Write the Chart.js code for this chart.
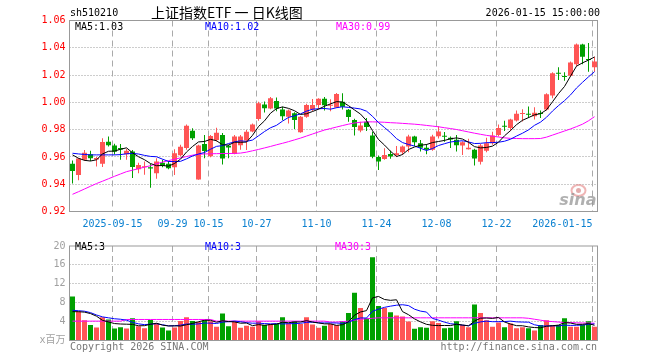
<!DOCTYPE html>
<html><head><meta charset="utf-8">
<script src="https://cdn.jsdelivr.net/npm/chart.js@4.4.1/dist/chart.umd.min.js"></script>
<style>
html,body{margin:0;padding:0;background:#fff;}
#wrap{position:relative;width:660px;height:360px;overflow:hidden;background:#fff;font-family:"DejaVu Sans Mono",monospace;font-size:10px;}
.t{position:absolute;white-space:pre;line-height:12px;}
canvas{position:absolute;left:0;}
</style></head><body>
<div id="wrap">
<canvas id="pc" width="660" height="236" style="top:0;width:660px;height:236px"></canvas>
<canvas id="vc" width="660" height="124" style="top:236px;width:660px;height:124px"></canvas>
<div class="t" style="left:70px;top:7px;color:#000">sh510210</div>
<div class="t" style="left:151px;top:3px;font-family:'Noto Sans CJK SC',sans-serif;font-size:14px;line-height:18px;color:#000">上证指数ETF 一 日K线图</div>
<div class="t" style="right:60px;top:7px;color:#000">2026-01-15 15:00:00</div>
<div class="t" style="left:75px;top:21px;color:#000">MA5:1.03</div>
<div class="t" style="left:205px;top:21px;color:#0000ff">MA10:1.02</div>
<div class="t" style="left:336px;top:21px;color:#ff00ff">MA30:0.99</div>
<div class="t" style="left:75px;top:241px;color:#000">MA5:3</div>
<div class="t" style="left:205px;top:241px;color:#0000ff">MA10:3</div>
<div class="t" style="left:335px;top:241px;color:#ff00ff">MA30:3</div>
<div class="t" style="left:70px;top:341px;color:#777">Copyright 2026 SINA.COM</div>
<div class="t" style="right:63px;top:341px;color:#777">http://finance.sina.com.cn</div>
</div>
<script>
const dates = [
 '2025-09-04','2025-09-05','2025-09-08','2025-09-09','2025-09-10','2025-09-11','2025-09-12','2025-09-15','2025-09-16','2025-09-17',
 '2025-09-18','2025-09-19','2025-09-22','2025-09-23','2025-09-24','2025-09-25','2025-09-26','2025-09-29','2025-09-30','2025-10-09',
 '2025-10-10','2025-10-13','2025-10-14','2025-10-15','2025-10-16','2025-10-17','2025-10-20','2025-10-21','2025-10-22','2025-10-23',
 '2025-10-24','2025-10-27','2025-10-28','2025-10-29','2025-10-30','2025-10-31','2025-11-03','2025-11-04','2025-11-05','2025-11-06',
 '2025-11-07','2025-11-10','2025-11-11','2025-11-12','2025-11-13','2025-11-14','2025-11-17','2025-11-18','2025-11-19','2025-11-20',
 '2025-11-21','2025-11-24','2025-11-25','2025-11-26','2025-11-27','2025-11-28','2025-12-01','2025-12-02','2025-12-03','2025-12-04',
 '2025-12-05','2025-12-08','2025-12-09','2025-12-10','2025-12-11','2025-12-12','2025-12-15','2025-12-16','2025-12-17','2025-12-18',
 '2025-12-19','2025-12-22','2025-12-23','2025-12-24','2025-12-25','2025-12-26','2025-12-29','2025-12-30','2025-12-31','2026-01-05',
 '2026-01-06','2026-01-07','2026-01-08','2026-01-09','2026-01-12','2026-01-13','2026-01-14','2026-01-15'];

const openP = [
 0.9550,0.9467,0.9580,0.9620,0.9582,0.9550,0.9712,0.9684,0.9665,0.9620,
 0.9640,0.9510,0.9525,0.9525,0.9480,0.9558,0.9550,0.9525,0.9612,0.9665,
 0.9792,0.9435,0.9694,0.9605,0.9725,0.9760,0.9682,0.9622,0.9685,0.9720,
 0.9787,0.9878,0.9985,0.9955,1.0010,0.9948,0.9894,0.9920,0.9780,0.9894,
 0.9948,0.9980,1.0026,0.9975,0.9963,1.0005,0.9945,0.9870,0.9793,0.9857,
 0.9757,0.9600,0.9585,0.9622,0.9615,0.9635,0.9676,0.9750,0.9700,0.9668,
 0.9652,0.9752,0.9752,0.9740,0.9726,0.9683,0.9657,0.9652,0.9565,0.9645,
 0.9700,0.9760,0.9826,0.9812,0.9867,0.9915,0.9915,0.9898,0.9920,0.9948,
 1.0050,1.0215,1.0190,1.0195,1.0280,1.0425,1.0315,1.0257];
const highP = [
 0.9573,0.9593,0.9650,0.9645,0.9600,0.9737,0.9750,0.9696,0.9695,0.9660,
 0.9650,0.9558,0.9566,0.9550,0.9590,0.9580,0.9570,0.9656,0.9690,0.9837,
 0.9810,0.9690,0.9760,0.9760,0.9813,0.9775,0.9690,0.9760,0.9760,0.9797,
 0.9845,1.0005,1.0007,1.0040,1.0035,0.9968,0.9948,0.9927,0.9900,0.9990,
 1.0025,1.0030,1.0040,1.0022,1.0068,1.0066,0.9952,0.9880,0.9857,0.9885,
 0.9785,0.9610,0.9664,0.9645,0.9681,0.9684,0.9763,0.9755,0.9725,0.9694,
 0.9763,0.9824,0.9783,0.9750,0.9760,0.9715,0.9733,0.9660,0.9694,0.9740,
 0.9785,0.9837,0.9866,0.9880,0.9940,0.9950,0.9970,0.9965,0.9940,1.0066,
 1.0220,1.0257,1.0220,1.0300,1.0432,1.0430,1.0435,1.0335];
const lowP = [
 0.9405,0.9429,0.9570,0.9570,0.9530,0.9527,0.9677,0.9617,0.9580,0.9580,
 0.9445,0.9480,0.9470,0.9375,0.9440,0.9525,0.9510,0.9468,0.9605,0.9653,
 0.9725,0.9433,0.9590,0.9598,0.9713,0.9545,0.9590,0.9620,0.9653,0.9650,
 0.9780,0.9865,0.9925,0.9950,0.9935,0.9869,0.9845,0.9805,0.9777,0.9887,
 0.9935,0.9950,0.9940,0.9935,0.9958,0.9948,0.9858,0.9757,0.9780,0.9790,
 0.9590,0.9505,0.9580,0.9587,0.9600,0.9615,0.9635,0.9680,0.9640,0.9620,
 0.9645,0.9735,0.9712,0.9665,0.9640,0.9615,0.9655,0.9538,0.9545,0.9635,
 0.9690,0.9750,0.9790,0.9790,0.9860,0.9860,0.9885,0.9875,0.9886,0.9940,
 1.0030,1.0163,1.0158,1.0188,1.0265,1.0280,1.0225,1.0225];
const closeP = [
 0.9496,0.9588,0.9630,0.9590,0.9592,0.9710,0.9685,0.9638,0.9655,0.9646,
 0.9527,0.9540,0.9530,0.9515,0.9566,0.9534,0.9517,0.9627,0.9674,0.9828,
 0.9737,0.9684,0.9643,0.9753,0.9777,0.9589,0.9670,0.9750,0.9750,0.9785,
 0.9837,0.9993,0.9957,1.0030,0.9955,0.9898,0.9940,0.9870,0.9894,0.9980,
 0.9980,1.0026,0.9978,0.9980,1.0062,0.9967,0.9892,0.9820,0.9830,0.9820,
 0.9602,0.9567,0.9615,0.9603,0.9627,0.9676,0.9750,0.9708,0.9668,0.9652,
 0.9750,0.9787,0.9748,0.9728,0.9685,0.9708,0.9668,0.9588,0.9683,0.9700,
 0.9757,0.9812,0.9822,0.9874,0.9917,0.9918,0.9910,0.9924,0.9915,1.0059,
 1.0213,1.0210,1.0185,1.0293,1.0425,1.0335,1.0310,1.0300];
const volume = [
 9.33,6.13,4.27,3.27,2.73,4.93,4.47,2.53,2.80,2.53,
 4.73,3.00,2.60,4.33,3.60,2.73,2.13,2.73,4.13,4.93,
 4.13,3.90,4.30,4.10,2.90,5.70,3.00,4.00,2.70,3.10,
 2.90,4.10,3.30,3.50,3.50,4.90,3.60,4.10,3.50,4.90,
 3.40,2.70,3.10,3.50,3.30,4.10,5.80,10.10,6.90,4.70,
 17.60,7.30,6.90,6.00,5.30,5.10,4.00,2.50,2.80,2.70,
 4.10,3.70,2.60,2.70,4.10,3.30,2.80,7.60,5.80,4.30,
 2.90,3.80,2.80,3.60,2.60,2.80,2.60,2.10,3.30,4.30,
 3.30,3.30,4.70,2.90,2.90,3.30,4.10,2.90];
// leading moving-average values (they depend on days before the window)
const ma5Head = [0.9615,0.9590,0.9575,0.9570];
const ma10Head = [0.9627,0.9622,0.9618,0.9615,0.9615,0.9615,0.9615,0.9615,0.9617];
const ma30Price = [
 0.9326,0.9345,0.9365,0.9385,0.9405,0.9422,0.9440,0.9458,0.9475,0.9492,
 0.9503,0.9514,0.9525,0.9536,0.9550,0.9562,0.9573,0.9583,0.9593,0.9603,
 0.9613,0.9619,0.9622,0.9623,0.9624,0.9625,0.9625,0.9626,0.9628,0.9635,
 0.9645,0.9655,0.9666,0.9677,0.9689,0.9700,0.9712,0.9725,0.9738,0.9753,
 0.9768,0.9783,0.9797,0.9808,0.9819,0.9830,0.9840,0.9849,0.9854,0.9857,
 0.9857,0.9856,0.9854,0.9851,0.9849,0.9846,0.9843,0.9840,0.9836,0.9831,
 0.9826,0.9821,0.9814,0.9808,0.9801,0.9792,0.9783,0.9774,0.9766,0.9758,
 0.9752,0.9746,0.9740,0.9736,0.9735,0.9734,0.9734,0.9734,0.9735,0.9745,
 0.9760,0.9775,0.9790,0.9805,0.9822,0.9840,0.9865,0.9895];
const volMa5Head = [6.1,6.1,6.0,5.7];
const volMa10Head = [6.4,6.3,6.2,5.9,5.4,5.0,4.8,4.6,4.5];
const volMa30 = [
 4.1,4.1,4.1,4.1,4.1,4.1,4.1,4.1,4.1,4.45,
 4.45,4.45,4.45,4.45,4.45,4.45,4.45,4.45,4.45,4.45,
 4.45,4.45,4.45,4.45,4.1,4.1,4.1,4.1,4.1,4.1,
 4.1,4.1,4.1,4.1,4.1,4.1,4.1,4.1,4.1,4.1,
 4.1,4.1,4.1,3.9,3.9,4.0,4.1,4.3,4.5,4.6,
 4.7,4.8,4.8,4.8,4.8,4.8,4.8,4.8,4.8,4.8,
 4.8,4.8,4.8,4.8,4.8,4.8,4.8,4.8,4.8,4.8,
 4.8,4.8,4.8,4.8,4.8,4.8,4.7,4.5,4.3,4.1,
 4.0,3.9,3.8,3.8,3.75,3.7,3.7,3.65];
const tickDates = ['2025-09-15','2025-09-29','2025-10-15','2025-10-27','2025-11-10','2025-11-24','2025-12-08','2025-12-22','2026-01-15'];
const tickLabels = ['2025-09-15','09-29','10-15','10-27','11-10','11-24','12-08','12-22','2026-01-15'];
const priceMin = 0.92, priceMax = 1.06, priceStep = 0.02;
const volMin = 0, volMax = 20, volStep = 4;

const UP = '#ff5555', DOWN = '#00a000';
const MONO = '"DejaVu Sans Mono", "Noto Sans CJK SC", monospace';

function movingAverage(src, n, head) {
  return src.map((_, i) => i < n - 1 ? head[i] : src.slice(i - n + 1, i + 1).reduce((a, b) => a + b, 0) / n);
}
const ma5Price = movingAverage(closeP, 5, ma5Head);
const ma10Price = movingAverage(closeP, 10, ma10Head);
const volMa5 = movingAverage(volume, 5, volMa5Head);
const volMa10 = movingAverage(volume, 10, volMa10Head);
const candleColor = dates.map((_, i) => closeP[i] >= openP[i] ? UP : DOWN);
const tickIndex = tickDates.map(d => dates.indexOf(d));

function gridPlugin(showWatermark) {
  return {
    id: 'gridFrame',
    beforeDatasetsDraw(chart) {
      const {ctx, chartArea: a, scales: {x, y}} = chart;
      ctx.save();
      ctx.lineWidth = 1;
      // horizontal dotted lines
      ctx.strokeStyle = '#9a9a9a';
      ctx.setLineDash([1, 2]);
      y.ticks.forEach(t => {
        if (Math.abs(t.value - y.min) < 1e-9 || Math.abs(t.value - y.max) < 1e-9) return;
        const py = Math.round(y.getPixelForValue(t.value) - 0.5) + 0.5;
        ctx.beginPath(); ctx.moveTo(a.left, py); ctx.lineTo(a.right, py); ctx.stroke();
      });
      // vertical dashed lines
      ctx.strokeStyle = '#aaaaaa';
      ctx.setLineDash([6, 4]);
      tickIndex.forEach(i => {
        const px = Math.round(x.getPixelForValue(i) - 2.5) + 0.5;
        ctx.beginPath(); ctx.moveTo(px, a.top); ctx.lineTo(px, a.bottom); ctx.stroke();
      });
      ctx.setLineDash([]);
      if (showWatermark) {
        const cx = a.right - 19, cy = a.bottom - 21;
        ctx.strokeStyle = 'rgba(225,120,120,0.55)';
        ctx.lineWidth = 2;
        ctx.beginPath(); ctx.ellipse(cx, cy, 7, 5.5, 0, 0, Math.PI * 2); ctx.stroke();
        ctx.fillStyle = 'rgba(200,90,90,0.5)';
        ctx.beginPath(); ctx.arc(cx, cy, 2.5, 0, Math.PI * 2); ctx.fill();
        ctx.fillStyle = 'rgba(150,150,150,0.75)';
        ctx.font = 'italic bold 16px "DejaVu Sans", sans-serif';
        ctx.textAlign = 'right'; ctx.textBaseline = 'alphabetic';
        ctx.fillText('sina', a.right - 1, a.bottom - 7);
      }
      ctx.restore();
    },
    afterDraw(chart) {
      const {ctx, chartArea: a} = chart;
      ctx.save();
      ctx.strokeStyle = '#999999';
      ctx.lineWidth = 1;
      ctx.strokeRect(a.left, a.top, a.right - a.left, a.bottom - a.top);
      ctx.restore();
    }
  };
}

Chart.defaults.font.family = MONO;
Chart.defaults.font.size = 10;

new Chart(document.getElementById('pc'), {
  type: 'bar',
  data: {
    labels: dates,
    datasets: [
      {type: 'line', data: ma5Price, borderColor: '#000000', borderWidth: 1, pointRadius: 0, tension: 0, order: 0},
      {type: 'line', data: ma10Price, borderColor: '#0000ff', borderWidth: 1, pointRadius: 0, tension: 0, order: 0},
      {type: 'line', data: ma30Price, borderColor: '#ff00ff', borderWidth: 1, pointRadius: 0, tension: 0, order: 0},
      {type: 'bar', data: dates.map((_, i) => [openP[i], closeP[i]]), backgroundColor: candleColor,
       barThickness: 5, grouped: false, minBarLength: 1, borderWidth: 0, inflateAmount: 0, order: 1},
      {type: 'bar', data: dates.map((_, i) => [lowP[i], highP[i]]), backgroundColor: candleColor,
       barThickness: 1, grouped: false, borderWidth: 0, inflateAmount: 0, order: 2}
    ]
  },
  options: {
    responsive: false, animation: false, devicePixelRatio: 1, events: [],
    layout: {padding: {left: 0, right: 62.5, top: 20.5, bottom: 0}},
    plugins: {legend: {display: false}, tooltip: {enabled: false}},
    scales: {
      x: {
        type: 'category', offset: true,
        grid: {display: false, drawTicks: false}, border: {display: false},
        ticks: {autoSkip: false, maxRotation: 0, minRotation: 0, align: 'inner', labelOffset: -2, padding: 7,
          color: '#0a80d0', font: {family: MONO, size: 10},
          callback: (v, i) => { const k = tickIndex.indexOf(i); return k >= 0 ? tickLabels[k] : ''; }},
        afterFit: s => { s.height = 24.5; }
      },
      y: {
        min: priceMin, max: priceMax,
        grid: {display: false, drawTicks: false}, border: {display: false},
        ticks: {stepSize: priceStep, color: '#ff0000', padding: 4, font: {family: MONO, size: 10},
          callback: v => Number(v).toFixed(2)},
        afterFit: s => { s.width = 69.5; }
      }
    }
  },
  plugins: [gridPlugin(true)]
});

new Chart(document.getElementById('vc'), {
  type: 'bar',
  data: {
    labels: dates,
    datasets: [
      {type: 'line', data: volMa5, borderColor: '#000000', borderWidth: 1, pointRadius: 0, tension: 0, order: 0},
      {type: 'line', data: volMa10, borderColor: '#0000ff', borderWidth: 1, pointRadius: 0, tension: 0, order: 0},
      {type: 'line', data: volMa30, borderColor: '#ff00ff', borderWidth: 1, pointRadius: 0, tension: 0, order: 0},
      {type: 'bar', data: volume, backgroundColor: candleColor, barThickness: 5, grouped: false,
       borderWidth: 0, inflateAmount: 0, order: 1}
    ]
  },
  options: {
    responsive: false, animation: false, devicePixelRatio: 1, events: [],
    layout: {padding: {left: 0, right: 62.5, top: 4.5, bottom: 0}},
    plugins: {legend: {display: false}, tooltip: {enabled: false}},
    scales: {
      x: {
        type: 'category', offset: true,
        grid: {display: false, drawTicks: false}, border: {display: false},
        ticks: {display: false},
        afterFit: s => { s.height = 19.5; }
      },
      y: {
        min: volMin, max: volMax,
        grid: {display: false, drawTicks: false}, border: {display: false},
        ticks: {stepSize: volStep, color: '#a0a0a0', padding: 4, font: {family: MONO, size: 10},
          callback: v => v === 0 ? 'x百万' : String(v)},
        afterFit: s => { s.width = 69.5; }
      }
    }
  },
  plugins: [gridPlugin(false)]
});
</script>
</body></html>
